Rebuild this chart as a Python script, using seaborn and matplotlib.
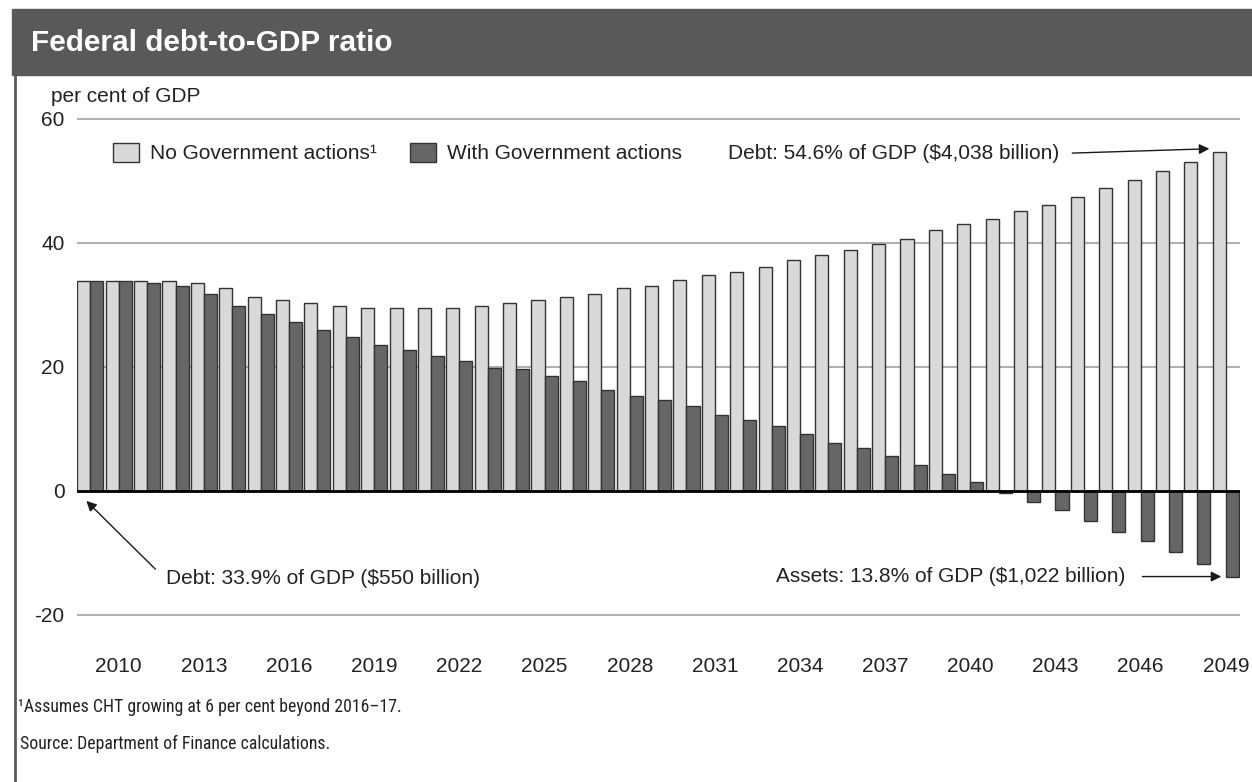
import matplotlib
matplotlib.use("Agg")
import matplotlib.pyplot as plt
from matplotlib.patches import Rectangle
from matplotlib.lines import Line2D
from matplotlib import font_manager
import pandas as pd
import seaborn as sns

# ---- data -------------------------------------------------------------
years = [2009, 2010, 2011, 2012, 2013, 2014, 2015, 2016, 2017, 2018,
         2019, 2020, 2021, 2022, 2023, 2024, 2025, 2026, 2027, 2028,
         2029, 2030, 2031, 2032, 2033, 2034, 2035, 2036, 2037, 2038,
         2039, 2040, 2041, 2042, 2043, 2044, 2045, 2046, 2047, 2048, 2049]

no_action = [33.9, 33.9, 33.9, 33.9, 33.5, 32.7, 31.3, 30.8, 30.4, 29.9,
             29.5, 29.5, 29.5, 29.5, 29.9, 30.4, 30.8, 31.3, 31.7, 32.7,
             33.1, 34.0, 34.9, 35.3, 36.2, 37.2, 38.0, 38.9, 39.8, 40.7,
             42.1, 43.0, 43.9, 45.2, 46.2, 47.5, 48.8, 50.2, 51.6, 53.0, 54.6]

with_action = [33.9, 33.9, 33.5, 33.1, 31.7, 29.9, 28.6, 27.2, 25.9, 24.9,
               23.6, 22.7, 21.8, 20.9, 19.9, 19.6, 18.6, 17.7, 16.3, 15.4,
               14.6, 13.7, 12.3, 11.4, 10.5, 9.2, 7.8, 6.9, 5.6, 4.2,
               2.8, 1.5, -0.4, -1.7, -3.0, -4.9, -6.6, -8.0, -9.8, -11.7, -13.8]

series_names = ["No Government actions\u00b9", "With Government actions"]
series_colors = ["#d9d9d9", "#666666"]
tick_years = [2010, 2013, 2016, 2019, 2022, 2025, 2028, 2031, 2034,
              2037, 2040, 2043, 2046, 2049]
y_ticks = [-20, 0, 20, 40, 60]
y_tick_labels = ["-20", "0", "20", "40", "60"]

df = pd.DataFrame({
    "year": years + years,
    "value": no_action + with_action,
    "series": [series_names[0]] * len(years) + [series_names[1]] * len(years),
})

# ---- style ------------------------------------------------------------
sns.set_style("white")
plt.rcParams["font.family"] = ["Liberation Sans", "DejaVu Sans"]
plt.rcParams["axes.unicode_minus"] = False

# a narrow face for the notes, if one is available
installed = {f.name for f in font_manager.fontManager.ttflist}
narrow_candidates = ["Liberation Sans Narrow", "Arial Narrow", "Roboto Condensed",
                     "Open Sans Condensed", "Noto Sans Condensed",
                     "DejaVu Sans Condensed"]
note_face = next((c for c in narrow_candidates if c in installed), "Liberation Sans")
note_family = [note_face, "DejaVu Sans"]

TEXT = "#222222"
BAND = "#595959"
W, H = 1252, 782


def fx(px):
    return px / W


def fy(py):
    return 1 - py / H


fig = plt.figure(figsize=(W / 100, H / 100), dpi=100)

# header band and left rule
fig.patches.append(Rectangle((fx(12), fy(75)), 1 - fx(12), (75 - 9) / H,
                             transform=fig.transFigure, color=BAND, zorder=0))
fig.text(fx(31), fy(43), "Federal debt-to-GDP ratio", color="white",
         fontsize=21.4, fontweight="bold", ha="left", va="center")
fig.add_artist(Line2D([fx(15), fx(15)], [0, fy(75)], color=BAND, lw=2.0))

# ---- axes -------------------------------------------------------------
ymin, ymax = -20.5, 60.5
px_per_unit = 6.2
zero_px = 491
top_px = zero_px - ymax * px_per_unit
bot_px = zero_px - ymin * px_per_unit
ax = fig.add_axes([fx(77), fy(bot_px), fx(1240) - fx(77), (bot_px - top_px) / H])

sns.barplot(data=df, x="year", y="value", hue="series", order=years,
            hue_order=series_names, palette=series_colors, width=0.92,
            edgecolor="#333333", linewidth=1.0, saturation=1, ax=ax, zorder=2)

ax.set_xlim(-0.47, len(years) - 0.5)
ax.set_ylim(ymin, ymax)
ax.set_yticks(y_ticks)
ax.set_yticklabels(y_tick_labels)
ax.set_xticks([years.index(y) for y in tick_years])
ax.set_xticklabels([str(y) for y in tick_years])
ax.tick_params(axis="y", length=0, pad=9, labelsize=15, labelcolor=TEXT)
ax.tick_params(axis="x", length=0, pad=28, labelsize=15, labelcolor=TEXT)
ax.set_xlabel("")
ax.set_ylabel("")
for s in ax.spines.values():
    s.set_visible(False)
ax.yaxis.grid(True, color="#a8a8a8", lw=1.3)
ax.xaxis.grid(False)
ax.set_axisbelow(True)
ax.axhline(0, color="black", lw=2.0, zorder=4)

fig.text(fx(51), fy(97), "per cent of GDP", fontsize=15, color=TEXT,
         ha="left", va="center")

# legend
handles, labels = ax.get_legend_handles_labels()
if ax.get_legend() is not None:
    ax.get_legend().remove()
leg = fig.legend(handles, labels, loc="center left",
                 bbox_to_anchor=(fx(113), fy(153)), bbox_transform=fig.transFigure,
                 ncol=2, frameon=False, fontsize=15, handlelength=1.25,
                 handleheight=1.05, handletextpad=0.55, columnspacing=1.55,
                 borderaxespad=0, borderpad=0)
for t in leg.get_texts():
    t.set_color(TEXT)

# ---- annotations ------------------------------------------------------
arrow = dict(arrowstyle="-|>", color="#1a1a1a", lw=1.0, mutation_scale=15,
             shrinkA=0, shrinkB=0)
last = len(years) - 1

ax.text(34.15, 54.5, "Debt: 54.6% of GDP ($4,038 billion)", fontsize=15,
        color=TEXT, ha="right", va="center")
ax.annotate("", xy=(last - 0.58, no_action[-1] + 0.6), xytext=(34.59, 54.5),
            arrowprops=arrow)

ax.text(2.68, -14.1, "Debt: 33.9% of GDP ($550 billion)", fontsize=15,
        color=TEXT, ha="left", va="center")
ax.annotate("", xy=(-0.14, -1.6), xytext=(2.29, -12.6), arrowprops=arrow)

ax.text(36.46, with_action[-1], "Assets: 13.8% of GDP ($1,022 billion)",
        fontsize=15, color=TEXT, ha="right", va="center")
ax.annotate("", xy=(last - 0.16, with_action[-1]), xytext=(37.06, with_action[-1]),
            arrowprops=arrow)

# ---- notes ------------------------------------------------------------
note1 = fig.text(fx(18), fy(707),
                 "\u00b9Assumes CHT growing at 6 per cent beyond 2016\u201317.",
                 family=note_family, fontsize=14, color=TEXT, ha="left", va="center")
note2 = fig.text(fx(20), fy(744), "Source: Department of Finance calculations.",
                 family=note_family, fontsize=14, color=TEXT, ha="left", va="center")

# size the notes so the first line runs to about x = 404 px
fig.canvas.draw()
renderer = fig.canvas.get_renderer()
width_now = note1.get_window_extent(renderer).width
note_size = 14 * (404 - 18) / width_now
note1.set_fontsize(note_size)
note2.set_fontsize(note_size)

fig.savefig("out.png", dpi=100)
